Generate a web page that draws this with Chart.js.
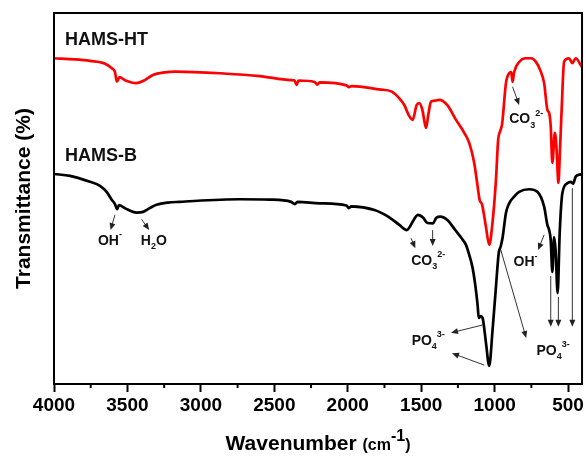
<!DOCTYPE html>
<html>
<head>
<meta charset="utf-8">
<script src="https://cdn.jsdelivr.net/npm/chart.js@4.4.1/dist/chart.umd.min.js"></script>
<style>
  body { margin: 0; background: #fff; }
  #wrap { width: 586px; height: 459px; }
</style>
</head>
<body>
<div id="wrap"><canvas id="ftir" width="586" height="459"></canvas></div>
<script>
// FTIR spectra (wavenumber in cm-1, transmittance in arbitrary %)
const htWavenumber = [4000, 3857, 3755, 3655, 3606, 3585, 3572, 3554, 3517, 3440, 3382, 3327, 3246, 3173, 2845, 2600, 2385, 2362, 2349, 2335, 2226, 2207, 2192, 2009, 1992, 1975, 1785, 1700, 1649, 1615, 1581, 1558, 1531, 1513, 1492, 1467, 1452, 1433, 1404, 1377, 1322, 1263, 1207, 1173, 1139, 1119, 1102, 1085, 1059, 1037, 1016, 991, 976, 962, 949, 923, 901, 887, 878, 867, 833, 788, 752, 720, 690, 663, 641, 629, 618, 607, 590, 578, 566, 555, 543, 527, 494, 471, 448, 414, 405];
const htValue = [87.8, 87.5, 87.1, 86.4, 85.1, 84.1, 81.5, 82.7, 81.9, 81.1, 81.9, 83.3, 84.0, 84.2, 83.7, 83.0, 81.9, 81.8, 80.6, 81.8, 81.4, 80.7, 81.3, 80.5, 80.0, 80.3, 79.4, 78.8, 77.0, 75.2, 72.2, 71.2, 75.2, 75.7, 73.9, 69.0, 72.5, 76.1, 76.4, 76.6, 75.2, 71.2, 67.7, 65.0, 59.6, 54.2, 49.6, 48.3, 42.3, 37.5, 42.9, 55.0, 65.8, 68.2, 70.1, 81.1, 83.8, 84.1, 81.4, 84.1, 86.8, 87.8, 87.8, 86.9, 84.6, 81.1, 73.9, 73.1, 69.4, 59.6, 67.7, 63.1, 54.2, 63.1, 74.7, 86.9, 87.8, 86.5, 87.8, 86.0, 85.4];

const bWavenumber = [4000, 3891, 3755, 3687, 3642, 3606, 3585, 3570, 3558, 3517, 3438, 3393, 3348, 3302, 3225, 3144, 2736, 2532, 2385, 2360, 2342, 2192, 2009, 1992, 1975, 1818, 1725, 1649, 1598, 1574, 1547, 1522, 1486, 1458, 1420, 1397, 1369, 1322, 1268, 1227, 1195, 1173, 1150, 1132, 1116, 1108, 1095, 1082, 1059, 1037, 1014, 991, 972, 958, 946, 923, 901, 867, 833, 765, 709, 663, 641, 629, 618, 607, 595, 585, 571, 557, 539, 505, 482, 466, 448, 414, 405];
const bValue = [56.6, 56.1, 54.5, 53.4, 51.8, 49.6, 48.5, 47.1, 48.2, 47.4, 46.2, 46.4, 47.4, 48.3, 48.9, 49.1, 49.8, 49.7, 49.1, 48.5, 49.1, 48.7, 48.1, 47.4, 47.9, 46.9, 45.1, 42.9, 41.5, 42.6, 44.5, 45.6, 44.8, 43.4, 43.3, 44.8, 45.1, 44.2, 41.5, 39.4, 37.5, 34.8, 31.3, 26.7, 21.3, 17.8, 18.3, 17.8, 11.1, 4.9, 14.6, 26.2, 35.3, 37.2, 39.4, 46.1, 48.7, 50.5, 51.8, 52.5, 51.8, 47.8, 42.9, 41.5, 38.8, 30.2, 39.6, 36.1, 24.5, 40.7, 51.4, 54.1, 54.5, 54.0, 55.9, 56.5, 56.6];

const xTicks = [4000, 3500, 3000, 2500, 2000, 1500, 1000, 500];
const xMinorTicks = [3750, 3250, 2750, 2250, 1750, 1250, 750];

// band labels: [wavenumber, value, main text, subscript, superscript, tail]
const bandLabels = [
  [3619, 38.6, 'OH', '', '-'],
  [3320, 38.6, 'H', '2', '', 'O'],
  [1452, 33.2, 'CO', '3', '2-'],
  [789, 32.8, 'OH', '', '-'],
  [1452, 11.6, 'PO', '4', '3-'],
  [602, 8.9, 'PO', '4', '3-'],
  [785, 71.4, 'CO', '3', '2-']
];
// arrows: [from wavenumber, from value, to wavenumber, to value]
const bandArrows = [
  [3585, 45.6, 3615, 41.5],
  [3404, 44.4, 3352, 41.5],
  [1569, 39.3, 1540, 36.6],
  [1422, 41.5, 1422, 37.2],
  [663, 40.2, 704, 36.1],
  [1082, 15.9, 1297, 13.8],
  [1071, 5.1, 1290, 8.3],
  [958, 36.1, 785, 12.4],
  [618, 29.1, 618, 15.4],
  [566, 23.5, 566, 15.4],
  [471, 52.8, 471, 15.4],
  [878, 80.1, 833, 75.2]
];

const FONT = '"Liberation Sans", Arial, sans-serif';

function pairs(xs, ys) {
  return xs.map((x, i) => ({ x: x, y: ys[i] }));
}

function drawArrow(ctx, x1, y1, x2, y2) {
  const ang = Math.atan2(y2 - y1, x2 - x1);
  const hl = 7, hw = 3;
  ctx.beginPath();
  ctx.moveTo(x1, y1);
  ctx.lineTo(x2 - Math.cos(ang) * hl * 0.8, y2 - Math.sin(ang) * hl * 0.8);
  ctx.stroke();
  ctx.beginPath();
  ctx.moveTo(x2, y2);
  ctx.lineTo(x2 - Math.cos(ang) * hl - Math.sin(ang) * hw, y2 - Math.sin(ang) * hl + Math.cos(ang) * hw);
  ctx.lineTo(x2 - Math.cos(ang) * hl + Math.sin(ang) * hw, y2 - Math.sin(ang) * hl - Math.cos(ang) * hw);
  ctx.closePath();
  ctx.fill();
}

function drawChem(ctx, cx, cy, main, sub, sup, tail) {
  const big = 'bold 14px ' + FONT, small = 'bold 9px ' + FONT;
  const parts = [[main, big, 0]];
  if (sub) parts.push([sub, small, 6]);
  if (sup) parts.push([sup, small, -6]);
  if (tail) parts.push([tail, big, 0]);
  let total = 0;
  parts.forEach(p => { ctx.font = p[1]; p.push(ctx.measureText(p[0]).width); total += p[3]; });
  let x = cx - total / 2;
  ctx.textAlign = 'left';
  ctx.textBaseline = 'middle';
  parts.forEach(p => {
    ctx.font = p[1];
    ctx.fillText(p[0], x, cy + p[2]);
    x += p[3];
  });
}

const decor = {
  id: 'decor',
  afterDatasetsDraw(chart) {
    const ctx = chart.ctx, a = chart.chartArea;
    const xs = chart.scales.x, ys = chart.scales.y;
    ctx.save();
    // frame
    ctx.strokeStyle = '#000';
    ctx.lineWidth = 2;
    ctx.strokeRect(a.left, a.top, a.right - a.left, a.bottom - a.top);
    // minor ticks
    xMinorTicks.forEach(v => {
      const px = xs.getPixelForValue(v);
      ctx.beginPath();
      ctx.moveTo(px, a.bottom);
      ctx.lineTo(px, a.bottom + 4);
      ctx.stroke();
    });
    // arrows
    ctx.strokeStyle = '#333';
    ctx.fillStyle = '#222';
    ctx.lineWidth = 1;
    bandArrows.forEach(r => {
      drawArrow(ctx, xs.getPixelForValue(r[0]), ys.getPixelForValue(r[1]),
        xs.getPixelForValue(r[2]), ys.getPixelForValue(r[3]));
    });
    // band labels
    ctx.fillStyle = '#111';
    bandLabels.forEach(l => {
      drawChem(ctx, xs.getPixelForValue(l[0]), ys.getPixelForValue(l[1]), l[2], l[3], l[4], l[5]);
    });
    // sample names
    ctx.font = 'bold 18px ' + FONT;
    ctx.textAlign = 'left';
    ctx.textBaseline = 'middle';
    ctx.fillText('HAMS-HT', xs.getPixelForValue(3925), ys.getPixelForValue(92.7));
    ctx.fillText('HAMS-B', xs.getPixelForValue(3925), ys.getPixelForValue(61.5));
    // axis titles
    ctx.fillStyle = '#000';
    const t1 = 'Wavenumber', t2 = '(cm', t3 = '-1', t4 = ')';
    const f1 = 'bold 21px ' + FONT, f2 = 'bold 16px ' + FONT;
    ctx.font = f1; const w1 = ctx.measureText(t1 + ' ').width;
    ctx.font = f2; const w2 = ctx.measureText(t2).width, w3 = ctx.measureText(t3).width, w4 = ctx.measureText(t4).width;
    let x = (a.left + a.right) / 2 - (w1 + w2 + w3 + w4) / 2;
    const by = 450;
    ctx.textBaseline = 'alphabetic';
    ctx.font = f1; ctx.fillText(t1, x, by); x += w1;
    ctx.font = f2; ctx.fillText(t2, x, by); x += w2;
    ctx.fillText(t3, x, by - 9); x += w3;
    ctx.fillText(t4, x, by);
    ctx.save();
    ctx.translate(24, (a.top + a.bottom) / 2);
    ctx.rotate(-Math.PI / 2);
    ctx.font = 'bold 21px ' + FONT;
    ctx.textAlign = 'center';
    ctx.textBaseline = 'middle';
    ctx.fillText('Transmittance (%)', 0, 0);
    ctx.restore();
    ctx.restore();
  }
};

new Chart(document.getElementById('ftir'), {
  type: 'line',
  data: {
    datasets: [
      { label: 'HAMS-HT', data: pairs(htWavenumber, htValue), borderColor: '#f00', borderWidth: 2.7, pointRadius: 0, cubicInterpolationMode: 'monotone' },
      { label: 'HAMS-B', data: pairs(bWavenumber, bValue), borderColor: '#000', borderWidth: 2.7, pointRadius: 0, cubicInterpolationMode: 'monotone' }
    ]
  },
  options: {
    responsive: false,
    animation: false,
    layout: { padding: { left: 0, right: 3, top: 13, bottom: 0 } },
    plugins: { legend: { display: false }, tooltip: { enabled: false } },
    scales: {
      x: {
        type: 'linear',
        reverse: true,
        min: 405,
        max: 4000,
        afterBuildTicks: s => { s.ticks = xTicks.map(v => ({ value: v })); },
        afterFit: s => { s.height = 75; },
        grid: { drawOnChartArea: false, drawTicks: true, tickLength: 8, tickWidth: 2, tickColor: '#000' },
        border: { display: true, color: '#000', width: 2 },
        ticks: {
          color: '#000', padding: 2, maxRotation: 0, autoSkip: false,
          font: { family: FONT, size: 19, weight: 'bold' },
          callback: v => String(v)
        }
      },
      y: {
        min: 0,
        max: 100,
        afterFit: s => { s.width = 54; },
        grid: { drawOnChartArea: false, drawTicks: false },
        border: { display: true, color: '#000', width: 2 },
        ticks: { display: false }
      }
    }
  },
  plugins: [decor]
});
</script>
</body>
</html>
